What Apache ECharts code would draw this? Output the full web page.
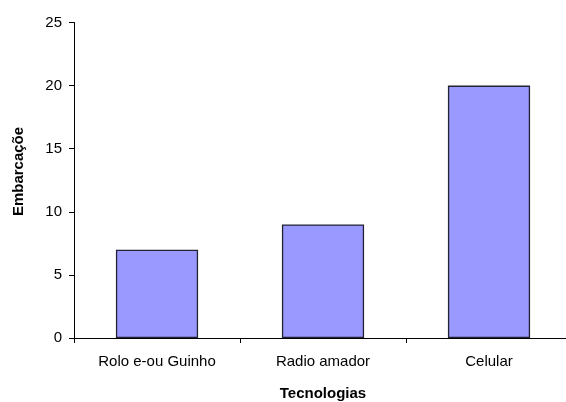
<!DOCTYPE html>
<html>
<head>
<meta charset="utf-8">
<script src="https://cdn.jsdelivr.net/npm/echarts@6/dist/echarts.min.js"></script>
<style>
  html, body { margin: 0; padding: 0; background: #fff; overflow: hidden; }
  #chart { width: 574px; height: 402px; }
</style>
</head>
<body>
<div id="chart"></div>
<script>
// Embarcações por tecnologia de comunicação
const categories = ['Rolo e-ou Guinho', 'Radio amador', 'Celular'];
const embarcacoes = [7, 9, 20];
const yTicks = [0, 5, 10, 15, 20, 25];
const yTitle = 'Embarcaçõe';
const xTitle = 'Tecnologias';

const font = 'Arial, "Liberation Sans", sans-serif';
const chart = echarts.init(document.getElementById('chart'), null, { renderer: 'canvas' });

chart.setOption({
  animation: false,
  backgroundColor: '#ffffff',
  grid: {
    left: 74, top: 22.5, width: 498, height: 315.5,
    containLabel: false,
    outerBoundsMode: 'none'
  },
  graphic: [{
    type: 'text',
    x: 19,
    y: 171.5,
    rotation: Math.PI / 2,
    style: {
      text: yTitle,
      font: 'bold 15px ' + font,
      fill: '#000',
      align: 'center',
      verticalAlign: 'middle'
    }
  }],
  xAxis: {
    type: 'category',
    data: categories,
    name: xTitle,
    nameLocation: 'middle',
    nameGap: 48,
    nameTextStyle: { fontFamily: font, fontSize: 15, fontWeight: 'bold', color: '#000' },
    axisLine: { lineStyle: { color: '#000', width: 1 } },
    axisTick: { show: true, length: 5, inside: false, lineStyle: { color: '#000' } },
    axisLabel: { fontFamily: font, fontSize: 15, color: '#000', margin: 16 },
    splitLine: { show: false }
  },
  yAxis: {
    type: 'value',
    min: yTicks[0],
    max: yTicks[yTicks.length - 1],
    interval: 5,
    axisLine: { show: true, lineStyle: { color: '#000', width: 1 } },
    axisTick: { show: true, length: 5, inside: false, lineStyle: { color: '#000' } },
    axisLabel: { fontFamily: font, fontSize: 15, color: '#000', margin: 12 },
    splitLine: { show: false }
  },
  series: [{
    type: 'bar',
    data: embarcacoes,
    barWidth: '49.5%',
    itemStyle: { color: '#9999ff', borderColor: '#222233', borderWidth: 1.3 }
  }]
});
</script>
</body>
</html>
